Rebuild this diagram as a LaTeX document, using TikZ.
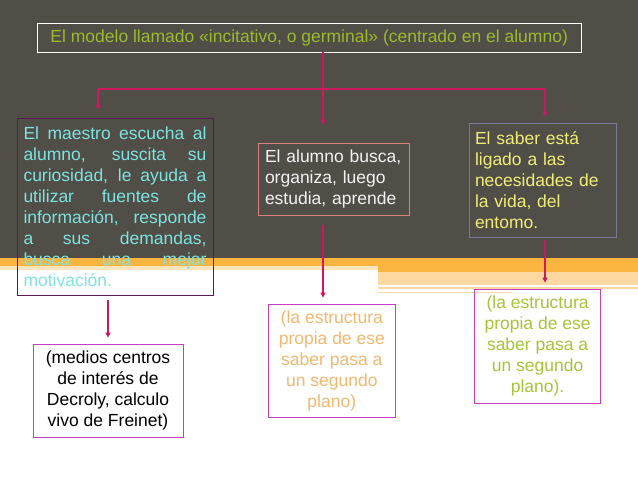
\documentclass[tikz,border=0pt]{standalone}
\usepackage{fontspec}
\setmainfont{Liberation Sans}
\usetikzlibrary{arrows.meta,calc}
\definecolor{BackClr}{RGB}{80,78,70}
\definecolor{BandClr}{RGB}{250,180,64}
\definecolor{PaleClr}{RGB}{253,216,160}
\definecolor{LinkClr}{RGB}{205,25,95}
\definecolor{TitleClr}{RGB}{155,187,46}
\definecolor{CyanClr}{RGB}{125,228,226}
\definecolor{PlumClr}{RGB}{90,24,88}
\definecolor{RoseClr}{RGB}{218,128,128}
\definecolor{SlateClr}{RGB}{120,120,155}
\definecolor{LemonClr}{RGB}{240,238,120}
\definecolor{MagClr}{RGB}{200,60,200}
\definecolor{TanClr}{RGB}{242,184,112}
\definecolor{LimeClr}{RGB}{166,196,58}

\begin{document}
\begin{tikzpicture}[x=1pt,y=-1pt,
  box/.style={draw,line width=0.8pt,inner xsep=6.5pt,inner ysep=2pt,
    font=\fontsize{17.5}{21}\selectfont},
  link/.style={draw=LinkClr,line width=1.2pt},
  conn/.style={link,-{Triangle[width=5pt,length=5pt]}}]
\useasboundingbox (0,0) rectangle (638,479);

% Slide background with the orange band.
\fill[white] (0,0) rectangle (638,479);
\fill[BackClr] (0,0) rectangle (638,258);
\fill[BandClr] (0,258) rectangle (638,266);
\fill[PaleClr!70!white] (0,266) rectangle (378,270);
\fill[BandClr] (378,266) rectangle (638,272);
\fill[PaleClr] (378,272) rectangle (638,285);
\fill[PaleClr] (378,287) rectangle (638,288.5);
\fill[PaleClr] (378,291.5) rectangle (513,293);

% Title and the three ideas.
\node[box,draw=white,text=TitleClr,minimum width=543.6pt,minimum height=29pt,
  inner ysep=0pt] (title) at (309.2,37.5)
  {El modelo llamado «incitativo, o germinal» (centrado en el alumno)};

\node[box,draw=PlumClr,text=CyanClr,text width=183pt,minimum height=177pt,
  align=justify] (lbox) at (115,206.5)
  {\tolerance=9999 El maestro escucha al\linebreak alumno, suscita su\linebreak
   curiosidad, le ayuda a\linebreak utilizar fuentes de\linebreak
   información, responde\linebreak a sus demandas,\linebreak
   busca una mejor\linebreak motivación.};
\node[box,draw=RoseClr,text=white!95!black,text width=138pt,minimum height=72pt,
  align=left] (mbox) at (334,179)
  {El alumno busca,\\organiza, luego\\estudia, aprende};
\node[box,draw=SlateClr,text=LemonClr,text width=135pt,minimum height=114pt,
  align=left,inner xsep=6pt] (rbox) at (542.5,180)
  {El saber está\\ligado a las\\necesidades de\\la vida, del\\entomo.};

% Remarks under each idea.
\node[box,draw=MagClr,text=black,minimum width=150pt,minimum height=93pt,
  align=center] (lbot) at (108,390.5)
  {(medios centros\\de interés de\\Decroly, calculo\\vivo de Freinet)};
\node[box,draw=MagClr,text=TanClr,minimum width=126.4pt,minimum height=113pt,
  align=center] (mbot) at (331.8,360.5)
  {(la estructura\\propia de ese\\saber pasa a\\un segundo\\plano)};
\node[box,draw=MagClr,text=LimeClr,minimum width=126.2pt,minimum height=114pt,
  align=center] (rbot) at (537.6,346)
  {(la estructura\\propia de ese\\saber pasa a\\un segundo\\plano).};

% Branching from the title.
\coordinate (fork) at (323,89);
\coordinate (lt) at (98,89);
\coordinate (rt) at (545,89);
\draw[link] (title.south -| fork) -- (fork);
\draw[link] (lt) -- (rt);
\draw[conn,shorten >=8pt] (lt) -- (lt |- lbox.north);
\draw[conn,shorten >=18pt] (fork) -- (fork |- mbox.north);
\draw[conn,shorten >=6pt] (rt) -- (rt |- rbox.north);

% Arrows down to the remarks.
\draw[conn,shorten <=5pt,shorten >=6pt] (lbox.south -| lbot) -- (lbot.north);
\draw[conn,shorten <=10pt,shorten >=6pt] (mbox.south -| fork) -- (mbot.north -| fork);
\draw[conn,shorten <=3pt,shorten >=6pt] (rbox.south -| rt) -- (rbot.north -| rt);

\end{tikzpicture}
\end{document}
